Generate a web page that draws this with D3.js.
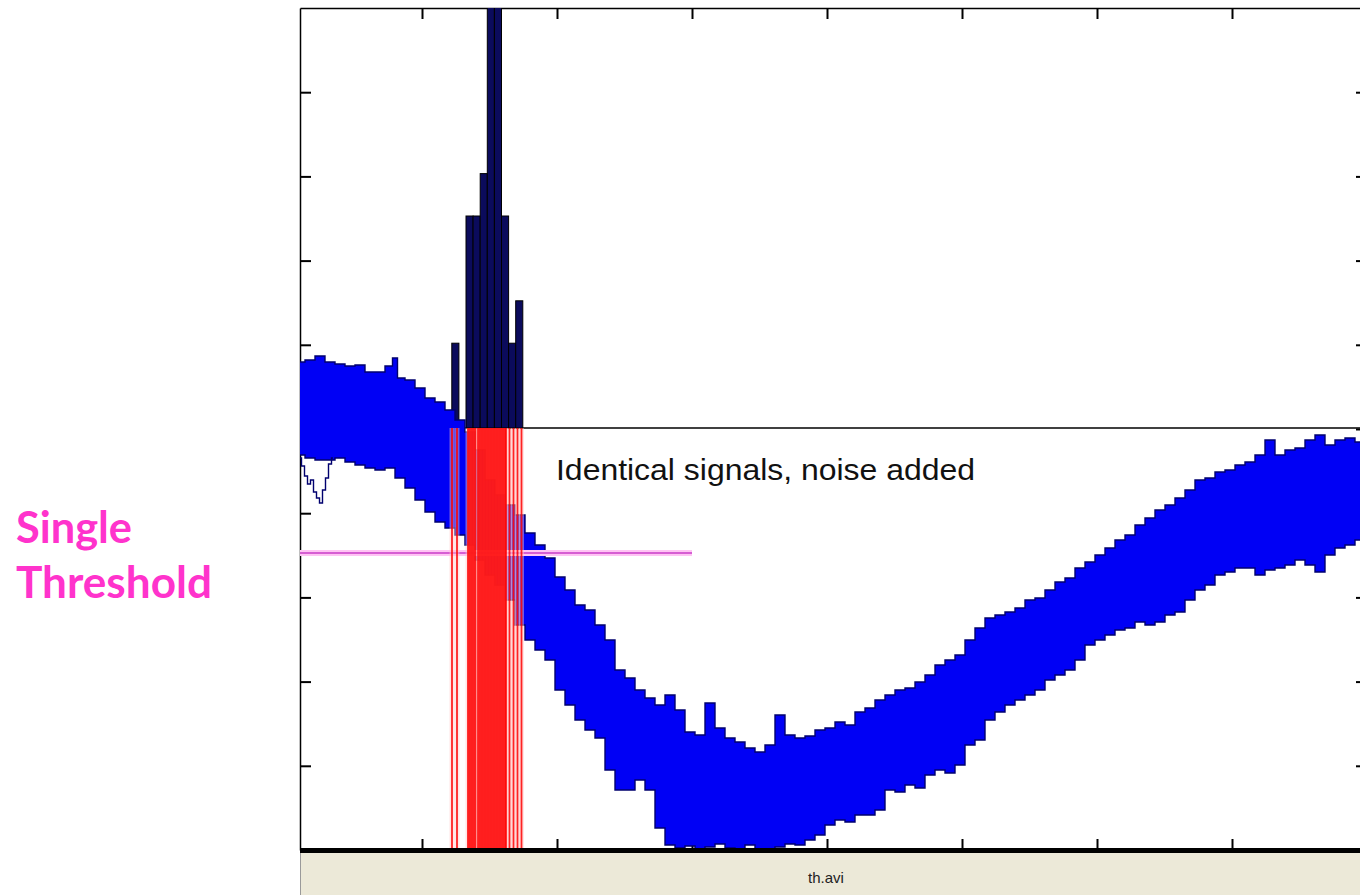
<!DOCTYPE html>
<html>
<head>
<meta charset="utf-8">
<script src="https://cdn.jsdelivr.net/npm/d3@7"></script>
<style>
  body { margin: 0; background: #fff; }
  svg { display: block; }
</style>
</head>
<body>
<div class="canvas"></div>
<script>
// ---- values ----
// x: sample index, y: signal level (0 = bottom of the frame)
const xTicks = [122, 257, 392, 527, 662, 797, 932]
const yTicks = [84.2, 168.4, 252.6, 336.8, 421, 505.2, 589.4, 673.6, 757.8]

// upper edge of the bundle of noisy traces [sample, level]
const upperEdge = [
  [0, 488], [10, 490], [20, 494], [30, 488], [40, 486], [50, 484], [60, 485], [70, 478],
  [80, 478], [90, 484], [95, 492], [100, 472], [110, 470], [120, 462], [130, 452], [140, 448],
  [150, 440], [160, 430], [170, 418], [180, 400], [190, 370], [200, 355], [210, 345], [220, 335],
  [230, 317], [240, 305], [250, 292], [260, 273], [270, 260], [280, 245], [290, 240], [300, 225],
  [310, 210], [320, 180], [330, 172], [340, 160], [350, 152], [360, 145], [370, 155], [380, 140],
  [390, 118], [400, 115], [410, 147], [420, 122], [430, 112], [440, 108], [450, 102], [460, 98],
  [470, 105], [480, 135], [490, 115], [500, 112], [510, 114], [520, 120], [530, 122], [540, 128],
  [550, 125], [560, 138], [570, 142], [580, 150], [590, 155], [600, 160], [610, 162], [620, 168],
  [630, 175], [640, 185], [650, 190], [660, 195], [670, 210], [680, 222], [690, 232], [700, 235],
  [710, 238], [720, 242], [730, 250], [740, 252], [750, 260], [760, 268], [770, 272], [780, 282],
  [790, 288], [800, 295], [810, 302], [820, 310], [830, 315], [840, 325], [850, 332], [860, 340],
  [870, 345], [880, 352], [890, 360], [900, 370], [910, 372], [920, 378], [930, 380], [940, 385],
  [950, 388], [960, 395], [970, 410], [980, 395], [990, 400], [1000, 402], [1010, 410], [1020, 415],
  [1030, 405], [1040, 410], [1050, 412], [1060, 408], [1067, 410]
]

// lower edge of the bundle [sample, level]
const lowerEdge = [
  [0, 395], [10, 392], [20, 390], [30, 390], [40, 392],
  [50, 388], [60, 385], [70, 382], [80, 380], [90, 382], [100, 372], [110, 362], [120, 350],
  [130, 338], [140, 328], [150, 322], [160, 315], [170, 305], [180, 290], [190, 275], [200, 265],
  [210, 250], [220, 225], [230, 210], [240, 200], [250, 190], [260, 160], [270, 145], [280, 130],
  [290, 120], [300, 112], [310, 80], [320, 60], [330, 60], [340, 70], [350, 60], [360, 22],
  [370, 5], [380, 2], [390, 4], [400, 0], [410, 3], [420, 6], [430, 2], [440, 0],
  [450, 5], [460, 0], [470, 0], [480, 3], [490, 6], [500, 5], [510, 10], [520, 15],
  [530, 25], [540, 30], [550, 28], [560, 35], [570, 35], [580, 40], [590, 60], [600, 58],
  [610, 65], [620, 62], [630, 75], [640, 80], [650, 77], [660, 85], [670, 105], [680, 110],
  [690, 130], [700, 138], [710, 145], [720, 150], [730, 155], [740, 160], [750, 170], [760, 175],
  [770, 180], [780, 190], [790, 205], [800, 210], [810, 215], [820, 220], [830, 222], [840, 228],
  [850, 225], [860, 228], [870, 235], [880, 238], [890, 250], [900, 260], [910, 265], [920, 275],
  [930, 278], [940, 282], [950, 282], [960, 275], [970, 280], [980, 282], [990, 285], [1000, 290],
  [1010, 285], [1020, 278], [1030, 295], [1040, 302], [1050, 305], [1060, 310], [1067, 310]
]

// one stray trace dipping below the bundle at the start [sample, level]
const strayTrace = [
  [0, 392], [3, 384], [6, 374], [9, 366], [12, 370], [15, 358], [18, 352], [21, 347],
  [24, 360], [27, 372], [30, 386], [33, 392]
]

// threshold crossing times (red markers)
const crossings = [
  152, 157, 168, 169.5, 171, 172.5, 174, 175.5, 178, 179.5, 181, 182.5, 184, 185.5,
  187, 188.5, 190, 191.5, 193, 194.5, 196, 197.5, 199, 200.5, 202, 203.5, 205,
  206, 209.5, 213.5, 217.5, 221.5
]

// histogram of the crossing times
const binEdges = [151.8, 158.9, 166, 173.1, 180.2, 187.3, 194.4, 201.5, 208.6, 215.7, 222.8]
const binCounts = [2, 0, 5, 5, 6, 11, 12, 5, 2, 3]

const thresholdLevel = 297
const thresholdEnd = 392
const histBase = 422

// ---- layout ----
const dims = {width: 1360, height: 895}
const plot = {left: 300, top: 8, right: 1367, bottom: 850}

const svg = d3.select('.canvas')
  .append('svg')
  .attr('width', dims.width)
  .attr('height', dims.height)

const x = d3.scaleLinear().domain([0, 1067]).range([plot.left, plot.right])
const y = d3.scaleLinear().domain([0, 842]).range([plot.bottom, plot.top])
// histogram counts sit on the line at histBase
const hy = d3.scaleLinear().domain([0, 10]).range([y(histBase), y(histBase) - 424])

svg.append('clipPath').attr('id', 'clip')
  .append('rect')
  .attr('x', plot.left).attr('y', plot.top)
  .attr('width', plot.right - plot.left).attr('height', plot.bottom - plot.top)

// frame and ticks
const styleAxis = g => {
  g.select('.domain').attr('stroke', '#000').attr('stroke-width', 1.5)
  g.selectAll('.tick line').attr('stroke', '#000').attr('stroke-width', 2)
}
svg.append('g').attr('transform', `translate(0,${plot.top})`)
  .call(d3.axisBottom(x).tickValues(xTicks).tickSizeInner(11).tickSizeOuter(0).tickFormat(''))
  .call(styleAxis)
svg.append('g').attr('transform', `translate(0,${plot.bottom})`)
  .call(d3.axisTop(x).tickValues(xTicks).tickSizeInner(11).tickSizeOuter(0).tickFormat(''))
  .call(styleAxis)
svg.append('g').attr('transform', `translate(${plot.left},0)`)
  .call(d3.axisRight(y).tickValues(yTicks).tickSizeInner(11).tickSizeOuter(0).tickFormat(''))
  .call(styleAxis)
svg.append('g').attr('transform', `translate(${plot.right},0)`)
  .call(d3.axisLeft(y).tickValues(yTicks).tickSizeInner(11).tickSizeOuter(0).tickFormat(''))
  .call(styleAxis)

const graph = svg.append('g').attr('clip-path', 'url(#clip)')

// histogram baseline
graph.append('line')
  .attr('x1', plot.left).attr('x2', plot.right)
  .attr('y1', y(histBase)).attr('y2', y(histBase))
  .attr('stroke', '#000').attr('stroke-width', 1.3)

// histogram bars
graph.selectAll('rect.bar')
  .data(binCounts)
  .enter()
  .append('rect')
  .attr('class', 'bar')
  .attr('x', (d, i) => x(binEdges[i]))
  .attr('width', (d, i) => x(binEdges[i + 1]) - x(binEdges[i]))
  .attr('y', d => hy(d))
  .attr('height', d => hy(0) - hy(d))
  .attr('fill', '#0b0b5c')
  .attr('stroke', '#000')
  .attr('stroke-width', 1)
  .attr('display', d => d > 0 ? null : 'none')

// bundle of noisy traces
const edgeLine = d3.line()
  .x(d => x(d[0]))
  .y(d => y(d[1]))
  .curve(d3.curveStep)

const bandPath = edgeLine(upperEdge) + 'L' + edgeLine(lowerEdge.slice().reverse()).slice(1) + 'Z'
graph.append('path')
  .attr('d', bandPath)
  .attr('fill', '#0000f5')

graph.selectAll('path.edge')
  .data([upperEdge, lowerEdge, strayTrace])
  .enter()
  .append('path')
  .attr('class', 'edge')
  .attr('d', edgeLine)
  .attr('fill', 'none')
  .attr('stroke', '#00006e')
  .attr('stroke-width', 1.4)

// threshold line
graph.append('line')
  .attr('x1', x(0)).attr('x2', x(thresholdEnd))
  .attr('y1', y(thresholdLevel)).attr('y2', y(thresholdLevel))
  .attr('stroke', '#ffc4f4').attr('stroke-width', 6)
graph.append('line')
  .attr('x1', x(0)).attr('x2', x(thresholdEnd))
  .attr('y1', y(thresholdLevel)).attr('y2', y(thresholdLevel))
  .attr('stroke', '#c83cc8').attr('stroke-width', 1.6)

// red crossing markers, with the soft halo of the video
graph.selectAll('line.halo')
  .data(crossings)
  .enter()
  .append('line')
  .attr('class', 'halo')
  .attr('x1', d => x(d)).attr('x2', d => x(d))
  .attr('y1', y(histBase)).attr('y2', plot.bottom)
  .attr('stroke', '#ffc8c8')
  .attr('stroke-width', 5)
  .attr('opacity', 0.45)

graph.selectAll('line.cross')
  .data(crossings)
  .enter()
  .append('line')
  .attr('class', 'cross')
  .attr('x1', d => x(d)).attr('x2', d => x(d))
  .attr('y1', y(histBase)).attr('y2', plot.bottom)
  .attr('stroke', '#ff0000')
  .attr('stroke-width', 1.8)
  .attr('opacity', 0.85)

// annotation
svg.append('text')
  .attr('x', x(256)).attr('y', y(370))
  .attr('font-family', '"Liberation Sans", Arial, sans-serif')
  .attr('font-size', 29)
  .attr('textLength', 419)
  .attr('lengthAdjust', 'spacingAndGlyphs')
  .attr('fill', '#111')
  .text('Identical signals, noise added')

// bottom edge and the player status bar
svg.append('rect')
  .attr('x', plot.left).attr('y', 848)
  .attr('width', dims.width - plot.left).attr('height', 5)
  .attr('fill', '#000')
svg.append('rect')
  .attr('x', plot.left).attr('y', 853)
  .attr('width', dims.width - plot.left).attr('height', dims.height - 853)
  .attr('fill', '#ece9d8')
svg.append('line')
  .attr('x1', plot.left + 0.5).attr('x2', plot.left + 0.5)
  .attr('y1', 853).attr('y2', dims.height)
  .attr('stroke', '#9a9a9a')
svg.append('text')
  .attr('x', 826).attr('y', 883)
  .attr('text-anchor', 'middle')
  .attr('font-family', '"Liberation Sans", Arial, sans-serif')
  .attr('font-size', 15)
  .attr('fill', '#222')
  .text('th.avi')

// slide title
const title = svg.append('g')
  .attr('font-family', 'Lato, "Open Sans", sans-serif')
  .attr('font-weight', 700)
  .attr('font-size', 44)
  .attr('fill', '#ff33cc')
title.append('text').attr('x', 16).attr('y', 543)
  .attr('textLength', 116).attr('lengthAdjust', 'spacingAndGlyphs')
  .text('Single')
title.append('text').attr('x', 16).attr('y', 598)
  .attr('textLength', 196).attr('lengthAdjust', 'spacingAndGlyphs')
  .text('Threshold')
</script>
</body>
</html>
